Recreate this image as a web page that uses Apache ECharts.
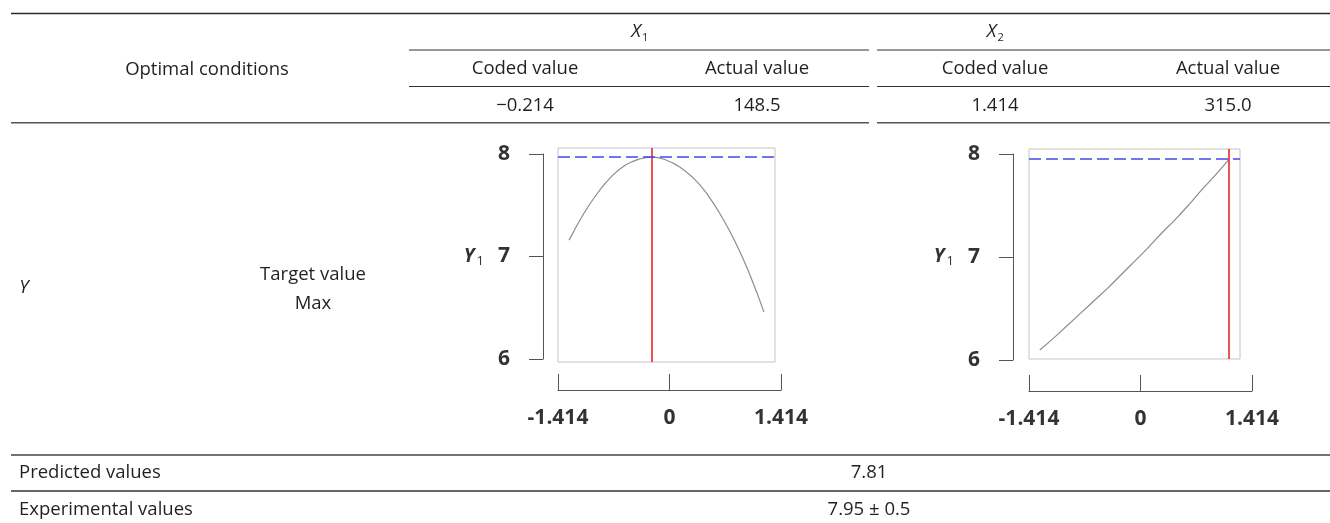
<!DOCTYPE html>
<html><head><meta charset="utf-8">
<script src="https://cdn.jsdelivr.net/npm/echarts@6/dist/echarts.min.js"></script>
<style>html,body{margin:0;padding:0;background:#fff}#c{width:1330px;height:523px}</style>
</head><body><div id="c"></div>
<script>
// ---------- data ----------
const factorSymbols = ['X', 'X'];
const factorSubs = ['1', '2'];
const subHeaders = ['Coded value', 'Actual value', 'Coded value', 'Actual value'];
const optimalValues = ['\u22120.214', '148.5', '1.414', '315.0'];
const rowLabels = ['Predicted values', 'Experimental values'];
const rowValues = ['7.81', '7.95 \u00b1 0.5'];
const xTickLabels = ['-1.414', '0', '1.414'];
const yTickValues = [6, 7, 8];
const x1Points = [-1.414, -1.2, -1.0, -0.8, -0.6, -0.4, -0.214, 0, 0.2, 0.4, 0.6, 0.8, 1.0, 1.2, 1.414];
const y1Curve  = [7.16, 7.42, 7.62, 7.78, 7.89, 7.95, 7.97, 7.94, 7.87, 7.76, 7.60, 7.39, 7.14, 6.84, 6.46];
const x2Points = [-1.414, -1.2, -1.0, -0.8, -0.6, -0.4, -0.2, 0, 0.2, 0.4, 0.6, 0.8, 1.0, 1.2, 1.414];
const y2Curve  = [6.10, 6.22, 6.34, 6.46, 6.58, 6.70, 6.83, 6.96, 7.09, 7.23, 7.36, 7.50, 7.65, 7.79, 7.95];
const optimalCoded = [-0.214, 1.414];
const targetLevels = [7.97, 7.95];

// ---------- layout ----------
const FONT = "'Open Sans', sans-serif";
const TXT = '#231f20';
const FS = 18.5;
const plots = [
  {xs: x1Points, ys: y1Curve, opt: optimalCoded[0], target: targetLevels[0],
   box: {left: 558, top: 148, width: 217, height: 214}, boxY: [5.971, 8.059],
   yax: {left: 543, top: 154, height: 205}, xax: {left: 558, top: 374, width: 223, height: 16}},
  {xs: x2Points, ys: y2Curve, opt: optimalCoded[1], target: targetLevels[1],
   box: {left: 1029, top: 149, width: 211, height: 210}, boxY: [6.013, 8.049],
   yax: {left: 1013, top: 154, height: 206}, xax: {left: 1029, top: 375, width: 223, height: 16}}
];

const grids = [], xAxes = [], yAxes = [], series = [];
plots.forEach((p, i) => {
  const g0 = grids.length;
  grids.push(Object.assign({show: true, borderColor: '#c4c4c4', borderWidth: 1, backgroundColor: 'transparent'}, p.box));
  grids.push({left: p.yax.left, top: p.yax.top, width: 10, height: p.yax.height});
  grids.push(p.xax);
  // box axes (hidden)
  xAxes.push({gridIndex: g0, type: 'value', min: -1.575, max: 1.575, show: false});
  yAxes.push({gridIndex: g0, type: 'value', min: p.boxY[0], max: p.boxY[1], show: false});
  // left y axis
  xAxes.push({gridIndex: g0 + 1, type: 'value', show: false});
  yAxes.push({gridIndex: g0 + 1, type: 'value', position: 'left',
    min: yTickValues[0], max: yTickValues[yTickValues.length - 1], interval: yTickValues[1] - yTickValues[0],
    axisLine: {show: true, lineStyle: {color: '#555', width: 1}},
    axisTick: {show: true, inside: false, length: 14, lineStyle: {color: '#555', width: 1}},
    splitLine: {show: false},
    axisLabel: {margin: 33, fontFamily: FONT, fontWeight: 'bold', fontSize: 21, color: '#333'},
    name: '{y|Y}{s|1}', nameLocation: 'middle', nameRotate: 0, nameGap: 59,
    nameTextStyle: {rich: {
      y: {fontFamily: FONT, fontWeight: 'bold', fontStyle: 'italic', fontSize: 19, color: '#333'},
      s: {fontFamily: FONT, fontSize: 13, color: '#333', padding: [9, 0, 0, 2]}
    }}
  });
  // bottom x axis
  xAxes.push({gridIndex: g0 + 2, type: 'category', data: xTickLabels, boundaryGap: false, position: 'bottom',
    axisLine: {show: true, lineStyle: {color: '#555', width: 1}},
    axisTick: {show: true, inside: true, length: 16, interval: 0, lineStyle: {color: '#555', width: 1}},
    axisLabel: {interval: 0, margin: 18, fontFamily: FONT, fontWeight: 'bold', fontSize: 21, color: '#333'},
    splitLine: {show: false}
  });
  yAxes.push({gridIndex: g0 + 2, type: 'value', show: false});
  series.push({
    type: 'line', xAxisIndex: xAxes.length - 3, yAxisIndex: yAxes.length - 3,
    data: p.xs.map((x, k) => [x, p.ys[k]]), smooth: true, showSymbol: false, silent: true,
    lineStyle: {color: '#8c8c8c', width: 1.2},
    markLine: {silent: true, symbol: 'none', label: {show: false},
      data: [
        {xAxis: p.opt, lineStyle: {color: '#e8262a', width: 1.6, type: 'solid'}},
        {yAxis: p.target, lineStyle: {color: '#4545f2', width: 1.6, type: [12, 5]}}
      ]}
  });
});

// ---------- table graphics ----------
const g = [];
function hline(y, x1, x2, c, w) {
  g.push({type: 'line', silent: true, shape: {x1: x1, y1: y, x2: x2, y2: y}, style: {stroke: c || '#333', lineWidth: w || 1.2}});
}
function text(s, x, y, opts) {
  opts = opts || {};
  g.push({type: 'text', silent: true, style: {text: s, x: x, y: y,
    textAlign: opts.align || 'center', textVerticalAlign: 'middle',
    font: (opts.style || 'normal') + ' normal ' + (opts.size || FS) + 'px ' + FONT, fill: TXT}});
}
hline(13.5, 11, 1330, '#2a2a2a', 1.3);
hline(50, 409, 869); hline(50, 877, 1330);
hline(86.5, 409, 869); hline(86.5, 877, 1330);
hline(122.7, 11, 869, '#555', 1.4); hline(122.7, 877, 1330, '#555', 1.4);
hline(455, 11, 1330, '#444', 1.4);
hline(491, 11, 1330, '#333', 1.4);

const factorX = [636, 991.5];
factorSymbols.forEach((s, i) => {
  text(s, factorX[i], 32, {style: 'italic', size: FS});
  text(factorSubs[i], factorX[i] + 6, 37.5, {align: 'left', size: 11});
});
text('Optimal conditions', 207, 70);
const colX = [525, 757, 995, 1228];
subHeaders.forEach((s, i) => text(s, colX[i], 69));
optimalValues.forEach((s, i) => text(s, colX[i], 106));
text('Y', 24, 288, {style: 'italic'});
text('Target value', 313, 275);
text('Max', 313, 304);
rowLabels.forEach((s, i) => text(s, 19, [473, 510][i], {align: 'left'}));
rowValues.forEach((s, i) => text(s, 869, [473, 510][i]));

const chart = echarts.init(document.getElementById('c'), null, {renderer: 'canvas'});
chart.setOption({
  animation: false, backgroundColor: '#fff',
  grid: grids, xAxis: xAxes, yAxis: yAxes, series: series, graphic: g
});
</script></body></html>
